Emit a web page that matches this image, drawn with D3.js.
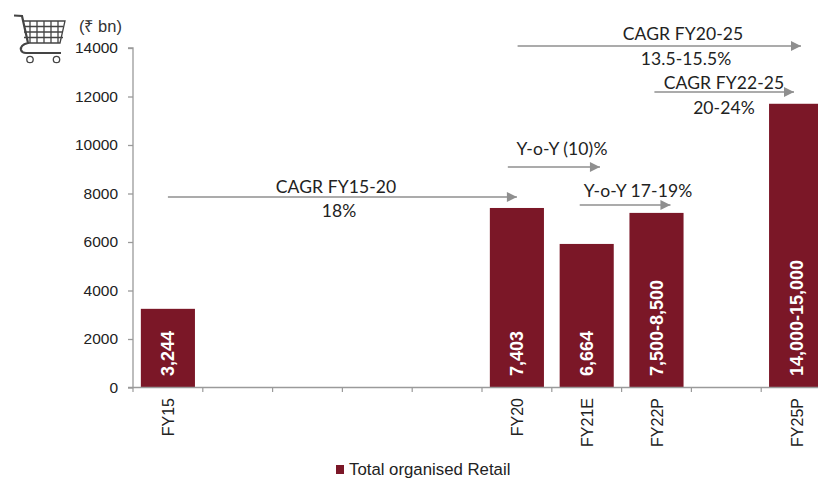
<!DOCTYPE html>
<html><head><meta charset="utf-8">
<script src="https://cdn.jsdelivr.net/npm/d3@7/dist/d3.min.js"></script>
<style>html,body{margin:0;padding:0;background:#fff;overflow:hidden}svg{display:block}</style>
</head><body><svg id="c" width="818" height="478"></svg>
<script>
const categories=["FY15","a","b","c","d","FY20","FY21E","FY22P","e","FY25P"];
const tickLabels=["FY15","","","","","FY20","FY21E","FY22P","","FY25P"];
const barCategories=["FY15","FY20","FY21E","FY22P","FY25P"];
const barValues=[3244,7403,5920,7200,11700];
const barLabels=["3,244","7,403","6,664","7,500-8,500","14,000-15,000"];
const yTicks=[0,2000,4000,6000,8000,10000,12000,14000];
const arrows=[
 {from:"FY15",fx:0,to:"FY20",tx:0,v:7856},
 {from:"FY20",fx:0.01,to:"FY25P",tx:0.07,v:14082},
 {from:"FY22P",fx:-0.03,to:"FY25P",tx:-0.03,v:12186},
 {from:"FY20",fx:-0.13,to:"FY21E",tx:0.19,v:9093},
 {from:"FY21E",fx:-0.1,to:"FY22P",tx:0.2,v:7526}];
const notes=[
 {t:"CAGR FY15-20",x:336,y:193},{t:"18%",x:339,y:217},
 {t:"CAGR FY20-25",x:683,y:40},{t:"13.5-15.5%",x:686,y:65},
 {t:"CAGR FY22-25",x:724,y:89},{t:"20-24%",x:724,y:114},
 {t:"Y-o-Y (10)%",x:562,y:155},{t:"Y-o-Y 17-19%",x:638,y:197}];

const svg=d3.select("#c");
const x=d3.scaleBand().domain(categories).range([133,831]);
const y=d3.scaleLinear().domain([0,14000]).range([387.5,48]);
const AX="Liberation Sans, Arial, sans-serif", NOTE="Lato, sans-serif";
const barW=x.step()*0.775, cx=c=>x(c)+x.step()/2;
const dark="#7b1727";

svg.append("g").selectAll("rect").data(barCategories).join("rect")
 .attr("x",c=>cx(c)-barW/2).attr("width",barW)
 .attr("y",(c,i)=>y(barValues[i])).attr("height",(c,i)=>y(0)-y(barValues[i]))
 .attr("fill",dark);

const gy=svg.append("g").attr("transform","translate(133,0)")
 .call(d3.axisLeft(y).tickValues(yTicks).tickFormat(d3.format("d")).tickSize(5).tickPadding(10));
gy.selectAll("text").attr("font-family",AX).attr("font-size",15.5).attr("fill","#222");
gy.selectAll("line,path").attr("stroke","#9a9a9a").attr("stroke-width",1.3);
gy.select("path").attr("d","M-5,48H0V387.5H-5");

const edges=categories.map(c=>x(c)).concat([x.range()[1]]);
svg.append("g").selectAll("line").data(edges).join("line")
 .attr("x1",d=>d).attr("x2",d=>d).attr("y1",387.5).attr("y2",392)
 .attr("stroke","#9a9a9a").attr("stroke-width",1.2);
svg.append("line").attr("x1",x.range()[0]).attr("x2",x.range()[1]).attr("y1",387.5).attr("y2",387.5)
 .attr("stroke","#9a9a9a").attr("stroke-width",1.4);

svg.append("g").selectAll("text").data(categories).join("text")
 .text((c,i)=>tickLabels[i])
 .attr("transform",c=>`translate(${cx(c)+6.5},398) rotate(-90)`)
 .attr("text-anchor","end").attr("font-family",AX).attr("font-size",16).attr("fill","#222");

svg.append("g").selectAll("text").data(barCategories).join("text")
 .text((c,i)=>barLabels[i])
 .attr("transform",c=>`translate(${cx(c)+6.5},376) rotate(-90)`)
 .attr("font-family",AX).attr("font-weight","bold").attr("font-size",18).attr("fill","#fff");

const ax=(c,o)=>cx(c)+x.step()*o;
const ag=svg.append("g").selectAll("g").data(arrows).join("g");
ag.append("line")
 .attr("x1",d=>ax(d.from,d.fx)).attr("x2",d=>ax(d.to,d.tx))
 .attr("y1",d=>y(d.v)).attr("y2",d=>y(d.v))
 .attr("stroke","#8f8f8f").attr("stroke-width",1.5);
ag.append("path")
 .attr("d",d=>{const e=ax(d.to,d.tx),v=y(d.v);return `M${e-10},${v-5}L${e},${v}L${e-10},${v+5}Z`;})
 .attr("fill","#8f8f8f");

svg.append("g").selectAll("text").data(notes).join("text")
 .text(d=>d.t).attr("x",d=>d.x).attr("y",d=>d.y).attr("text-anchor","middle")
 .attr("font-family",NOTE).attr("font-size",17.5).attr("letter-spacing",0.1).attr("fill","#222");

svg.append("text").text("(₹ bn)").attr("x",79).attr("y",32)
 .attr("font-family",AX).attr("font-size",16.5).attr("fill","#333");

const cart=svg.append("g").attr("fill","none").attr("stroke","#444").attr("stroke-width",1.3);
cart.append("path").attr("stroke-width",2.2).attr("d","M14,15.5 L22,16 L28,43 Q20,45 21,50 Q22,53 26,53 H61");
cart.append("path").attr("d","M23,21 H65 L60,43 H28");
[30,37,44,51,58].forEach(v=>cart.append("line").attr("x1",v).attr("x2",v).attr("y1",21).attr("y2",43));
[26.5,32,37.5].forEach(v=>cart.append("line").attr("x1",24).attr("x2",63).attr("y1",v).attr("y2",v));
cart.append("circle").attr("cx",30).attr("cy",59.5).attr("r",3.2);
cart.append("circle").attr("cx",56.5).attr("cy",59.5).attr("r",3.2);

svg.append("rect").attr("x",336).attr("y",465).attr("width",8).attr("height",9).attr("fill",dark);
svg.append("text").text("Total organised Retail").attr("x",349).attr("y",475)
 .attr("font-family",AX).attr("font-size",16.8).attr("fill","#222");
</script></body></html>
